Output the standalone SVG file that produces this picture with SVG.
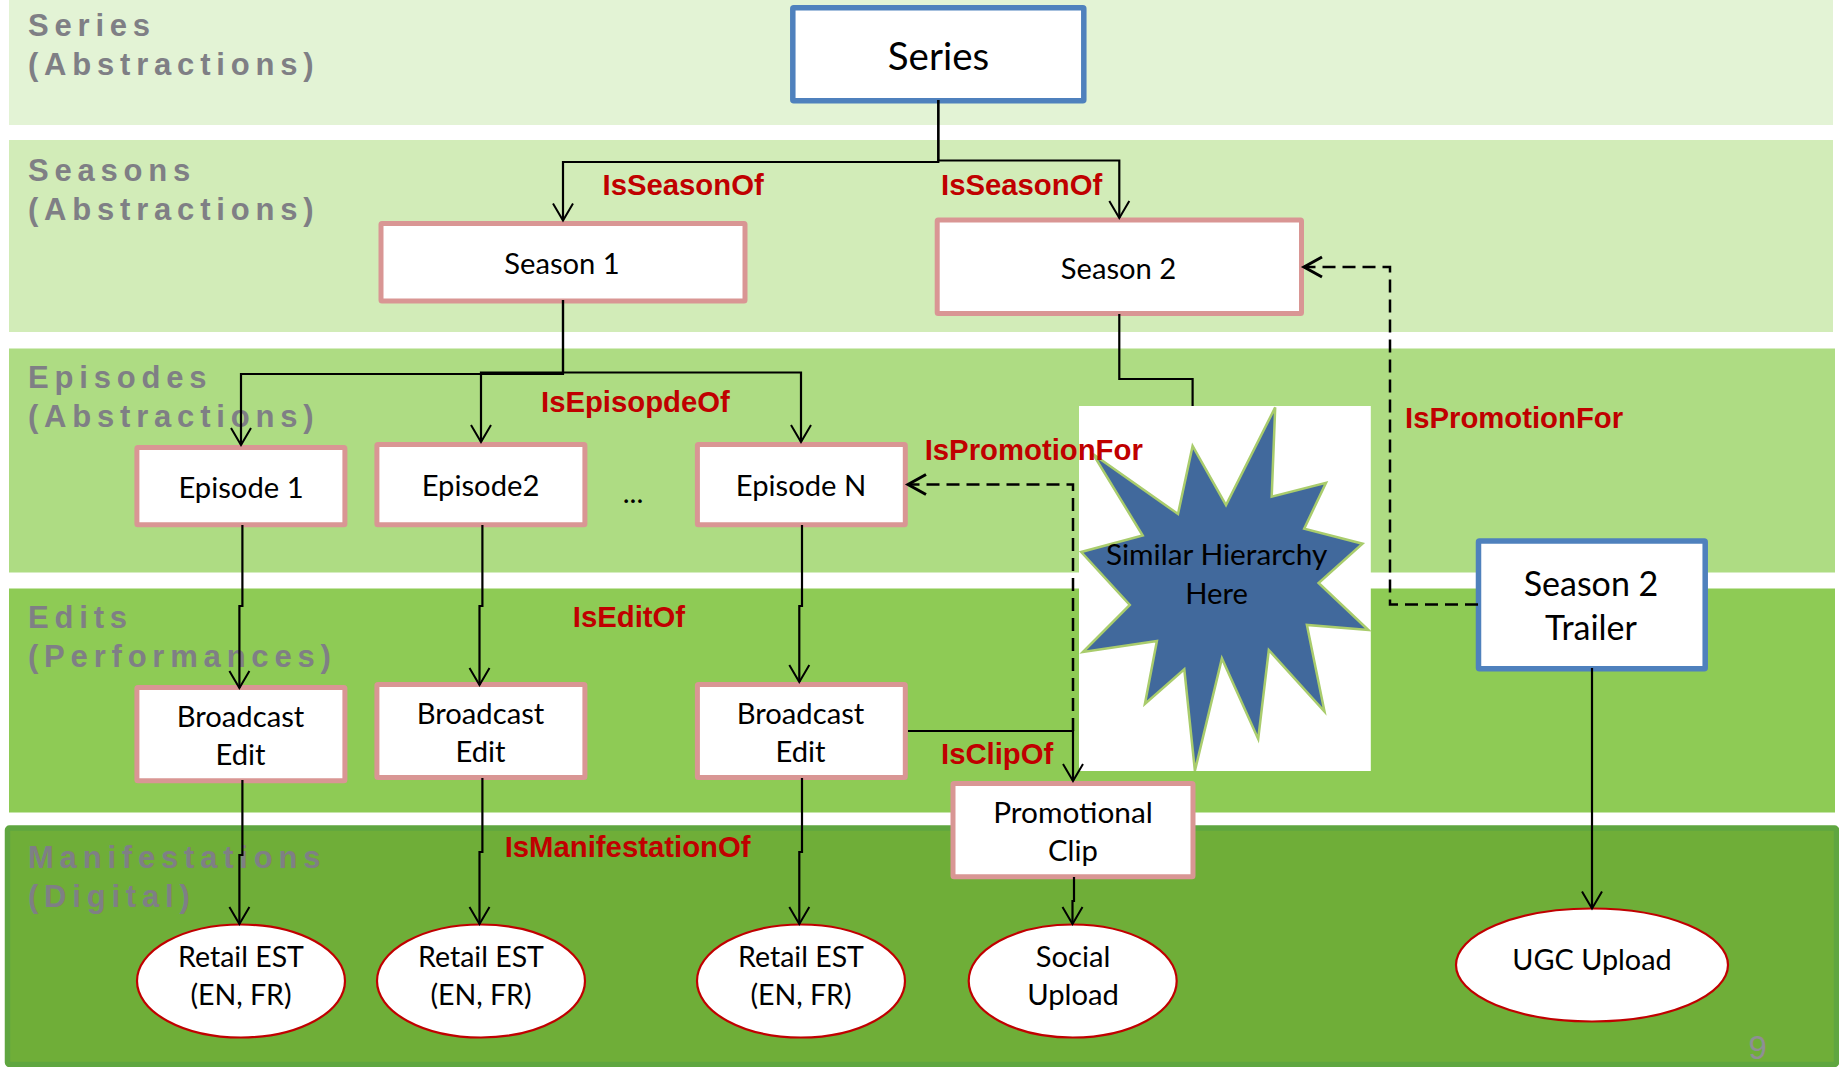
<svg xmlns="http://www.w3.org/2000/svg" width="1839" height="1067" viewBox="0 0 1839 1067">
<style>
.bl{font:bold 31px "Liberation Sans",Arial,sans-serif;fill:#7f7f85;letter-spacing:5.8px}
.rel{font:bold 29.3px "Liberation Sans",Arial,sans-serif;fill:#c00000}
.t{font:29.2px Lato,"Noto Sans",sans-serif;fill:#000;text-anchor:middle}
.box{fill:#fff;stroke:#d99694;stroke-width:5;}
.blue{fill:#fff;stroke:#4f81bd;stroke-width:5.5;}
.el{fill:#fff;stroke:#c00000;stroke-width:2.2}
.c{fill:none;stroke:#000;stroke-width:2.2}
.d{fill:none;stroke:#000;stroke-width:2.5;stroke-dasharray:13 7}
</style>
<defs>
<marker id="a" markerUnits="userSpaceOnUse" markerWidth="40" markerHeight="40" viewBox="-20 -20 40 40" refX="0" refY="0" orient="auto" overflow="visible"><path d="M-17,-10 L0,0 L-17,10" fill="none" stroke="#000" stroke-width="2"/></marker>
<marker id="b" markerUnits="userSpaceOnUse" markerWidth="40" markerHeight="40" viewBox="-20 -20 40 40" refX="0" refY="0" orient="auto" overflow="visible"><path d="M-18,-10 L0,0 L-18,10" fill="none" stroke="#000" stroke-width="3" stroke-dasharray="none"/></marker>
</defs>
<g id="bands">
<rect x="9" y="0" width="1824" height="125" fill="#e3f3d5"/>
<rect x="9" y="140" width="1824" height="192" fill="#d2ecb8"/>
<rect x="9" y="348.5" width="1826" height="224" fill="#aedc83"/>
<rect x="9" y="588.5" width="1826" height="224" fill="#8ecb55"/>
<rect x="7.5" y="828" width="1829" height="236.5" rx="2" fill="#6fae38" stroke="#5fa640" stroke-width="5.5"/>
<text class="bl" x="28" y="36">Series</text><text class="bl" x="28" y="75">(Abstractions)</text>
<text class="bl" x="28" y="181">Seasons</text><text class="bl" x="28" y="220">(Abstractions)</text>
<text class="bl" x="28" y="387.5">Episodes</text><text class="bl" x="28" y="427">(Abstractions)</text>
<text class="bl" x="28" y="628">Edits</text><text class="bl" x="28" y="667">(Performances)</text>
<text class="bl" x="28" y="867.5">Manifestations</text><text class="bl" x="28" y="907">(Digital)</text>
<text x="1748.5" y="1059" style="font:33px 'Liberation Sans',sans-serif;fill:#8f8f94">9</text>
</g>
<g id="n-series"><rect class="blue" x="792.8" y="7.8" width="291" height="93" rx="1"/><text class="t" x="938.5" y="69.5" style="font-size:38.5px">Series</text></g>
<g id="n-season1"><rect class="box" x="381" y="223.5" width="364" height="77.4" rx="1"/><text class="t" x="562" y="274">Season 1</text></g>
<g id="n-season2"><rect class="box" x="937.2" y="220.1" width="364.3" height="93.5" rx="1"/><text class="t" x="1118.5" y="279">Season 2</text></g>
<g id="n-ep1"><rect class="box" x="136.9" y="447.5" width="208" height="77.3" rx="1"/><text class="t" x="241" y="497.5">Episode 1</text></g>
<g id="n-ep2"><rect class="box" x="376.9" y="444.6" width="208" height="80.2" rx="1"/><text class="t" x="480.5" y="495.5">Episode2</text></g>
<g id="n-epn"><rect class="box" x="697.4" y="444.6" width="207.9" height="80.2" rx="1"/><text class="t" x="801" y="495.5">Episode N</text></g>
<text class="t" x="633" y="503">...</text>
<g id="n-be1"><rect class="box" x="136.9" y="687.5" width="208" height="93.2" rx="1"/><text class="t" x="240.5" y="727">Broadcast</text><text class="t" x="240.5" y="765">Edit</text></g>
<g id="n-be2"><rect class="box" x="376.9" y="684.5" width="208" height="93" rx="1"/><text class="t" x="480.5" y="724">Broadcast</text><text class="t" x="480.5" y="762">Edit</text></g>
<g id="n-be3"><rect class="box" x="697.4" y="684.5" width="207.9" height="93" rx="1"/><text class="t" x="800.5" y="724">Broadcast</text><text class="t" x="800.5" y="762">Edit</text></g>
<g id="n-promo"><rect class="box" x="953" y="783.5" width="240" height="93.3" rx="1"/><text class="t" x="1073" y="823" style="font-size:29.8px">Promotional</text><text class="t" x="1073" y="860.5">Clip</text></g>
<g id="n-trailer"><rect class="blue" x="1478.5" y="541" width="226.7" height="127.7" rx="1"/><text class="t" x="1591" y="595.5" style="font-size:34px">Season 2</text><text class="t" x="1591" y="640" style="font-size:34px">Trailer</text></g>
<g id="n-star"><rect x="1079" y="406" width="291.8" height="365" fill="#fff"/>
<polygon points="1092.9,453.9 1178,514 1192.6,446 1226,505 1275.2,407.4 1271.7,496.6 1326,482.8 1304.2,528.6 1362.5,543.7 1318.6,583 1368.4,630 1306.9,625 1324.5,711.5 1268.8,650 1258.2,739 1221.9,658.4 1194.9,770.8 1184.3,669.4 1144.9,704 1156.9,641 1082.9,652 1129.8,605 1081.2,552 1142.7,535.5" fill="#41699c" stroke="#a9cc6c" stroke-width="2.5"/>
<text class="t" x="1216.6" y="564.5" style="font-size:29.8px">Similar Hierarchy</text><text class="t" x="1216.6" y="603.5">Here</text></g>
<g id="n-r1"><ellipse class="el" cx="241" cy="981" rx="104" ry="56.5"/><text class="t" x="241" y="967" style="font-size:28.5px">Retail EST</text><text class="t" x="241" y="1005" style="font-size:28.5px">(EN, FR)</text></g>
<g id="n-r2"><ellipse class="el" cx="481" cy="981" rx="104" ry="56.5"/><text class="t" x="481" y="967" style="font-size:28.5px">Retail EST</text><text class="t" x="481" y="1005" style="font-size:28.5px">(EN, FR)</text></g>
<g id="n-r3"><ellipse class="el" cx="801" cy="981" rx="104" ry="56.5"/><text class="t" x="801" y="967" style="font-size:28.5px">Retail EST</text><text class="t" x="801" y="1005" style="font-size:28.5px">(EN, FR)</text></g>
<g id="n-social"><ellipse class="el" cx="1072.7" cy="981" rx="104" ry="56.5"/><text class="t" x="1073" y="967">Social</text><text class="t" x="1073" y="1005">Upload</text></g>
<g id="n-ugc"><ellipse class="el" cx="1592" cy="965" rx="136" ry="56.5"/><text class="t" x="1592" y="970" style="font-size:28.8px">UGC Upload</text></g>
<g id="connectors">
<path class="c" marker-end="url(#a)" d="M938.3,100 V162 H563 V220.5"/>
<path class="c" marker-end="url(#a)" d="M938.3,100 V160.5 H1119.3 V218"/>
<path class="c" marker-end="url(#a)" d="M563,300 V374 H241 V445"/>
<path class="c" marker-end="url(#a)" d="M563,300 V372.5 H481 V442"/>
<path class="c" marker-end="url(#a)" d="M563,372.5 H801 V442"/>
<path class="c" d="M1119.3,314 V379 H1192.6 V406"/>
<path class="d" marker-end="url(#b)" d="M1478,604.5 H1390 V267 H1304"/>
<path class="d" marker-end="url(#b)" d="M1073,731 V484.5 H908"/>
<path class="c" marker-end="url(#a)" d="M908,731 H1073 V781"/>
<path class="c" marker-end="url(#a)" d="M242.4,525 V606 H239.4 V688"/>
<path class="c" marker-end="url(#a)" d="M482.4,525 V606 H479.5 V685"/>
<path class="c" marker-end="url(#a)" d="M802,525 V606 H799.3 V682"/>
<path class="c" marker-end="url(#a)" d="M242.4,780 V855 H239.4 V924"/>
<path class="c" marker-end="url(#a)" d="M482.4,778 V852 H479.5 V924"/>
<path class="c" marker-end="url(#a)" d="M802,778 V852 H799.3 V924"/>
<path class="c" marker-end="url(#a)" d="M1074,877 V901 H1072.5 V924"/>
<path class="c" marker-end="url(#a)" d="M1592,668 V908.5"/>
</g>
<g id="labels">
<text class="rel" x="602.5" y="195">IsSeasonOf</text>
<text class="rel" x="941" y="195">IsSeasonOf</text>
<text class="rel" x="541" y="412">IsEpisopdeOf</text>
<text class="rel" x="924.7" y="460">IsPromotionFor</text>
<text class="rel" x="1405" y="428">IsPromotionFor</text>
<text class="rel" x="572.8" y="627">IsEditOf</text>
<text class="rel" x="504.7" y="856.5">IsManifestationOf</text>
<text class="rel" x="941" y="764">IsClipOf</text>
</g>
</svg>
